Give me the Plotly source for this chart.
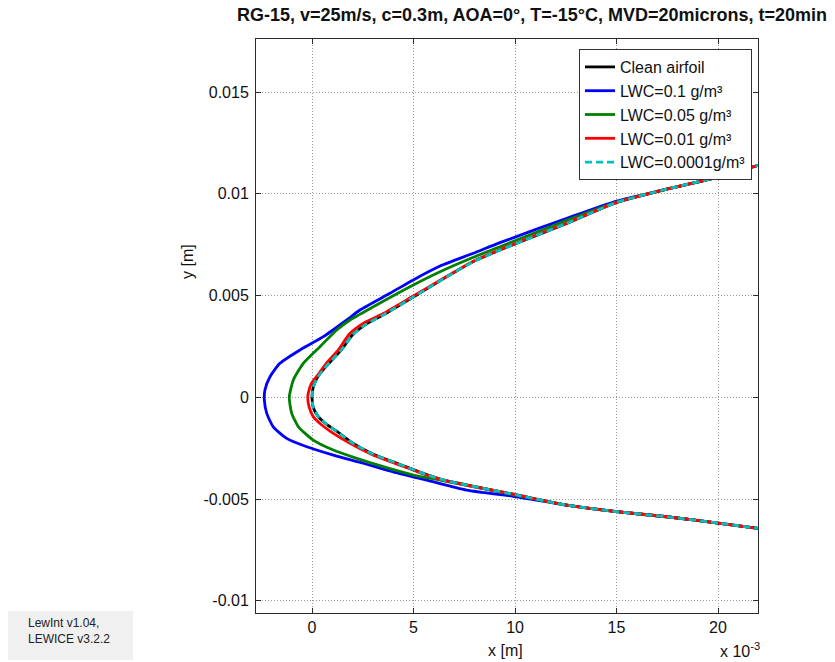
import numpy as np
import plotly.graph_objects as go

# ---- data (millimetres) ----
clean_x = [22.2, 20.10, 17.47, 15.01, 12.55, 9.26, 7.95, 6.31, 4.99, 3.51, 2.60, 1.98, 1.45, 0.90, 0.52, 0.22, 0.05, 0.0,
           0.06, 0.31, 0.72, 1.38, 1.95, 3.02, 4.33, 5.65, 6.45, 10.08, 12.55, 15.01, 17.47, 20.10, 22.2]
clean_y = [11.47, 10.85, 10.23, 9.58, 8.55, 7.24, 6.67, 5.73, 4.93, 4.05, 3.55, 3.05, 2.33, 1.75, 1.32, 0.90, 0.45, 0.0,
           -0.50, -0.95, -1.33, -1.78, -2.22, -2.80, -3.30, -3.80, -4.06, -4.80, -5.30, -5.62, -5.87, -6.19, -6.47]

lwc01_x = [22.2, 20.10, 17.47, 15.01, 12.55, 9.26, 7.95, 6.31, 4.99, 3.84, 2.36, 1.71, 0.56, -0.59, -1.58, -2.07, -2.32, -2.35,
           -2.23, -1.91, -1.25, -0.26, 1.05, 2.53, 4.00, 5.65, 7.62, 10.08, 12.55, 15.01, 17.47, 20.10, 22.2]
lwc01_y = [11.47, 10.85, 10.23, 9.65, 8.80, 7.60, 7.08, 6.45, 5.77, 5.11, 4.29, 3.80, 2.98, 2.33, 1.67, 1.01, 0.36, -0.13,
           -0.79, -1.45, -2.02, -2.43, -2.84, -3.24, -3.66, -4.07, -4.56, -4.89, -5.30, -5.62, -5.87, -6.19, -6.47]

lwc005_x = [22.2, 20.10, 17.47, 15.01, 12.55, 9.26, 7.95, 6.31, 4.99, 3.02, 1.87, 1.22, 0.39, -0.43, -0.92, -1.12,
            -1.00, -0.67, 0.06, 1.05, 2.20, 3.51, 4.99, 6.31, 10.08, 12.55, 15.01, 17.47, 20.10, 22.2]
lwc005_y = [11.47, 10.85, 10.23, 9.60, 8.70, 7.40, 6.88, 6.17, 5.52, 4.45, 3.80, 3.31, 2.49, 1.67, 0.85, 0.0,
            -0.79, -1.45, -2.10, -2.59, -3.00, -3.41, -3.82, -4.07, -4.82, -5.30, -5.62, -5.87, -6.19, -6.47]

lwc001_x = [22.2, 20.10, 17.47, 15.01, 12.55, 9.26, 7.95, 6.31, 4.99, 3.51, 2.50, 1.85, 1.30, 0.70, 0.35, -0.03, -0.18, -0.21,
            -0.15, 0.06, 0.48, 1.05, 1.87, 3.02, 4.33, 5.65, 6.45, 10.08, 12.55, 15.01, 17.47, 20.10, 22.2]
lwc001_y = [11.47, 10.85, 10.23, 9.58, 8.57, 7.26, 6.69, 5.75, 4.98, 4.12, 3.62, 3.12, 2.33, 1.67, 1.18, 0.69, 0.22, 0.0,
            -0.46, -0.95, -1.36, -1.77, -2.26, -2.84, -3.33, -3.82, -4.07, -4.80, -5.30, -5.62, -5.87, -6.19, -6.47]

lwc00001_x = [22.2, 20.10, 17.47, 15.01, 12.55, 9.26, 7.95, 6.31, 4.99, 3.51, 2.60, 1.98, 1.45, 0.90, 0.52, 0.22, 0.05, 0.0,
              0.06, 0.31, 0.72, 1.38, 1.95, 3.02, 4.33, 5.65, 6.45, 10.08, 12.55, 15.01, 17.47, 20.10, 22.2]
lwc00001_y = [11.47, 10.85, 10.23, 9.58, 8.55, 7.24, 6.67, 5.73, 4.93, 4.05, 3.55, 3.05, 2.33, 1.75, 1.32, 0.90, 0.45, 0.0,
              -0.50, -0.95, -1.33, -1.78, -2.22, -2.80, -3.30, -3.80, -4.06, -4.80, -5.30, -5.62, -5.87, -6.19, -6.47]

x_tickvals_mm = [0, 5, 10, 15, 20]
x_ticktext = ["0", "5", "10", "15", "20"]
y_tickvals = [-0.01, -0.005, 0, 0.005, 0.01, 0.015]
y_ticktext = ["-0.01", "-0.005", "0", "0.005", "0.01", "0.015"]

title_text = "RG-15, v=25m/s, c=0.3m, AOA=0°, T=-15°C, MVD=20microns, t=20min"

series = [
    ("Clean airfoil", clean_x, clean_y, "#000000", "solid"),
    ("LWC=0.1 g/m³", lwc01_x, lwc01_y, "#0000ff", "solid"),
    ("LWC=0.05 g/m³", lwc005_x, lwc005_y, "#008000", "solid"),
    ("LWC=0.01 g/m³", lwc001_x, lwc001_y, "#ff0000", "solid"),
    ("LWC=0.0001g/m³", lwc00001_x, lwc00001_y, "#00bfbf", "dash"),
]

W, H = 835, 662
L, R, T, B = 256, 758, 39, 613
pw, ph = R - L, B - T


def px(xp):
    return (xp - L) / pw


def py(yp):
    return (B - yp) / ph


FONT = "Arial, Liberation Sans, Helvetica, sans-serif"

fig = go.Figure()
for name, xs, ys, color, dash in series:
    fig.add_trace(go.Scatter(
        x=np.array(xs) * 1e-3, y=np.array(ys) * 1e-3, mode="lines", name=name,
        line=dict(color=color, width=2.8, shape="spline", smoothing=0.6,
                  dash=("7px,4px" if dash == "dash" else "solid")),
    ))

axis_common = dict(
    showline=True, linecolor="#2b2b2b", linewidth=1, mirror="ticks",
    ticks="inside", ticklen=5, tickcolor="#2b2b2b", tickwidth=1,
    showgrid=True, gridcolor="#9a9a9a", gridwidth=1, griddash="1px,2px",
    zeroline=False, tickfont=dict(family=FONT, size=16, color="#111111"),
)

fig.update_xaxes(range=[-2.76e-3, 21.97e-3], tickmode="array",
                 tickvals=[v * 1e-3 for v in x_tickvals_mm], ticktext=x_ticktext, **axis_common)
fig.update_yaxes(range=[-10.60e-3, 17.61e-3], tickmode="array", ticklabelstandoff=3,
                 tickvals=y_tickvals, ticktext=y_ticktext, **axis_common)

fig.update_layout(
    width=W, height=H, autosize=False,
    margin=dict(l=L, r=W - R, t=T, b=H - B, pad=0),
    paper_bgcolor="white", plot_bgcolor="white",
    font=dict(family=FONT, size=16, color="#111111"),
    title=dict(text="<b>" + title_text + "</b>", x=532 / W, xanchor="center",
               y=1 - 15 / H, yanchor="middle", font=dict(size=18, color="#111111")),
    legend=dict(x=px(752), xanchor="right", y=py(49), yanchor="top",
                bgcolor="white", bordercolor="#333333", borderwidth=1,
                font=dict(family=FONT, size=16, color="#111111"),
                tracegroupgap=0),
    showlegend=True,
)

fig.add_shape(type="rect", xref="paper", yref="paper",
              x0=px(8), x1=px(133), y0=py(660), y1=py(611),
              fillcolor="#f0f0f0", line=dict(width=0), layer="below")

annotations = [
    dict(text="y [m]", x=px(187), y=py(262), textangle=-90, font=dict(size=16)),
    dict(text="x [m]", x=px(505), y=py(650), font=dict(size=16)),
    dict(text="x 10<sup>-3</sup>", x=px(718), y=py(650), xanchor="left", font=dict(size=16)),
    dict(text="LewInt v1.04,<br>LEWICE v3.2.2", x=px(26), y=py(614), xanchor="left", yanchor="top",
         align="left", font=dict(size=12, color="#222222")),
]
for a in annotations:
    base = dict(xref="paper", yref="paper", showarrow=False, xanchor="center", yanchor="middle")
    base.update(a)
    fig.add_annotation(**base)

fig.write_html("out.html")
